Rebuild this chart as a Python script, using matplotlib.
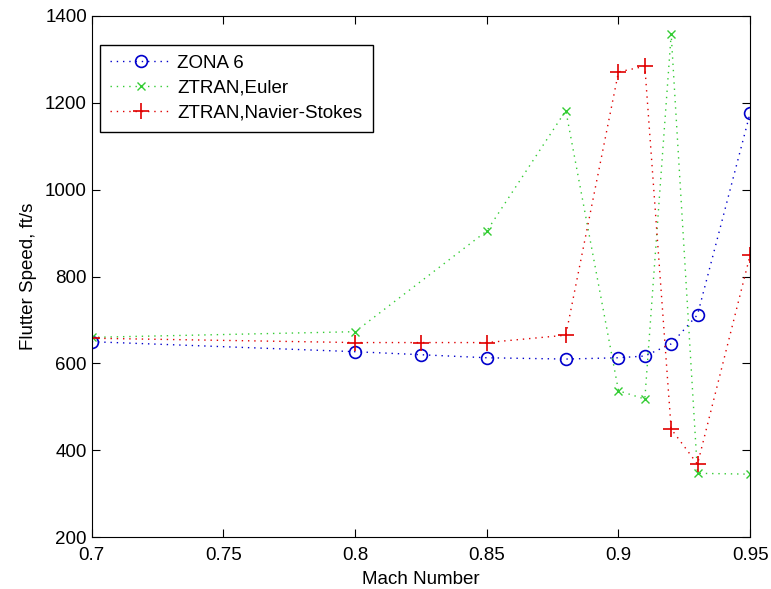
import matplotlib
matplotlib.use('Agg')
import matplotlib.pyplot as plt

plt.rcParams['font.family'] = ['Liberation Sans', 'DejaVu Sans']

# Mach numbers
mach_zona = [0.7, 0.8, 0.825, 0.85, 0.88, 0.9, 0.91, 0.92, 0.93, 0.95]
speed_zona = [650, 627, 620, 613, 610, 613, 617, 645, 712, 1177]

mach_euler = [0.7, 0.8, 0.85, 0.88, 0.9, 0.91, 0.92, 0.93, 0.95]
speed_euler = [660, 673, 905, 1182, 537, 518, 1358, 347, 345]

mach_ns = [0.7, 0.8, 0.825, 0.85, 0.88, 0.9, 0.91, 0.92, 0.93, 0.95]
speed_ns = [658, 648, 648, 648, 665, 1271, 1284, 449, 368, 850]

fig = plt.figure(figsize=(7.71, 5.89), dpi=100)
ax = fig.add_axes([0.119, 0.088, 0.854, 0.885])

dots = (0, (1, 3.5))
ax.plot(mach_zona, speed_zona, linestyle=dots, color='#0000cc', marker='o', markersize=8.5,
        markerfacecolor='none', markeredgewidth=1.2, linewidth=1.0, label='ZONA 6')
ax.plot(mach_euler, speed_euler, linestyle=dots, color='#33cc33', marker='x', markersize=6,
        linewidth=1.0, label='ZTRAN,Euler')
ax.plot(mach_ns, speed_ns, linestyle=dots, color='#e00000', marker='+', markersize=11,
        markeredgewidth=1.2, linewidth=1.0, label='ZTRAN,Navier-Stokes')

ax.set_xlim(0.7, 0.95)
ax.set_ylim(200, 1400)
ax.set_xticks([0.7, 0.75, 0.8, 0.85, 0.9, 0.95])
ax.set_xticklabels(['0.7', '0.75', '0.8', '0.85', '0.9', '0.95'])
ax.set_yticks([200, 400, 600, 800, 1000, 1200, 1400])
ax.tick_params(direction='in', length=6, labelsize=13.5, top=True, right=True)
ax.tick_params(axis='x', pad=7)
ax.set_xlabel('Mach Number', fontsize=13.5, labelpad=5)
ax.set_ylabel('Flutter Speed, ft/s', fontsize=13.5, labelpad=6)

leg = ax.legend(loc='upper left', bbox_to_anchor=(0.012, 0.945), fontsize=13.5,
                fancybox=False, framealpha=1, edgecolor='black',
                handlelength=3.3, handletextpad=0.3, borderpad=0.55,
                labelspacing=0.4, borderaxespad=0)
leg.get_frame().set_linewidth(1.0)

plt.savefig('out.png', dpi=100)
plt.close()
